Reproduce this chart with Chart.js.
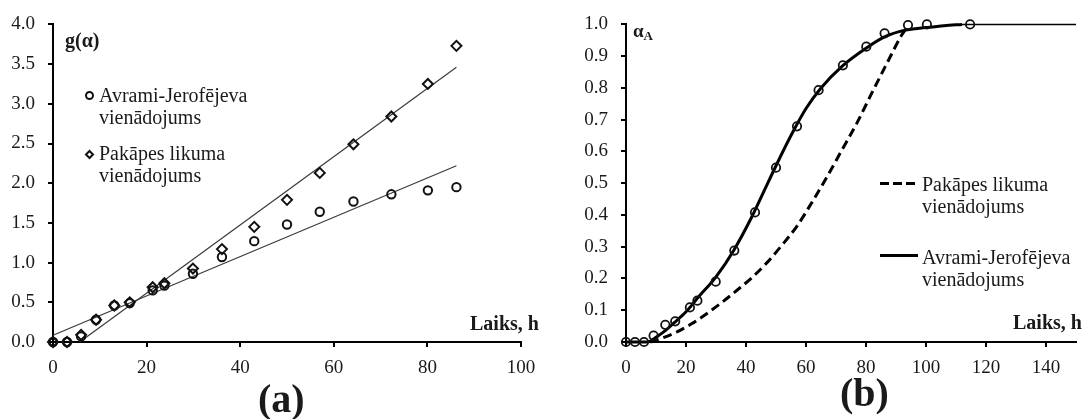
<!DOCTYPE html>
<html>
<head>
<meta charset="utf-8">
<script src="https://cdn.jsdelivr.net/npm/chart.js@4.4.1/dist/chart.umd.min.js"></script>
<style>
  html, body { margin: 0; padding: 0; background: #fff; }
  body { width: 1082px; height: 419px; position: relative; overflow: hidden;
         font-family: "Liberation Serif", "Times New Roman", serif; color: #1a1a1a; }
  .box { position: absolute; top: 0; height: 419px; }
  #boxA { left: 0; width: 560px; }
  #boxB { left: 560px; width: 522px; }
  .t { position: absolute; white-space: nowrap; line-height: 1; }
  .b { font-weight: bold; }
  .leg { position: absolute; white-space: nowrap; font-size: 20px; }
  .mk { position: absolute; box-sizing: border-box; }
</style>
</head>
<body>
<div class="box" id="boxA"><canvas id="chartA"></canvas></div>
<div class="box" id="boxB"><canvas id="chartB"></canvas></div>

<!-- panel (a) captions and legend -->
<div class="t b" style="left:65px; top:30px; font-size:20px;">g(α)</div>
<div class="t b" style="left:470px; top:313px; font-size:20px;">Laiks, h</div>
<div class="t b" style="left:258px; top:379px; font-size:40px;">(a)</div>
<div class="mk" style="left:85px; top:91px; width:9px; height:9px; border:2px solid #111; border-radius:50%;"></div>
<div class="leg" style="left:99px; top:84px; line-height:22px;">Avrami-Jerofējeva<br>vienādojums</div>
<div class="mk" style="left:85.5px; top:150.5px; width:7px; height:7px; border:2px solid #111; transform:rotate(45deg);"></div>
<div class="leg" style="left:99px; top:142px; line-height:22px;">Pakāpes likuma<br>vienādojums</div>

<!-- panel (b) captions and legend -->
<div class="t b" style="left:633px; top:21px; font-size:19px;">α<span style="font-size:13px; position:relative; top:3px;">A</span></div>
<div class="t b" style="left:1013px; top:312px; font-size:20px;">Laiks, h</div>
<div class="t b" style="left:840px; top:373px; font-size:40px;">(b)</div>
<div class="mk" style="left:880px; top:182px; width:36px; height:3px; background:repeating-linear-gradient(90deg,#000 0 9px,transparent 9px 13px);"></div>
<div class="leg" style="left:922px; top:174px; line-height:21.5px;">Pakāpes likuma<br>vienādojums</div>
<div class="mk" style="left:880px; top:254px; width:38px; height:3px; background:#000;"></div>
<div class="leg" style="left:922px; top:247px; line-height:21.5px;">Avrami-Jerofējeva<br>vienādojums</div>

<script>
// ---- panel (a): g(α) versus time ----
const timeA      = [0, 3, 6, 9.2, 13.1, 16.4, 21.3, 23.8, 29.9, 36.1, 43, 50, 57, 64.2, 72.3, 80.1, 86.2];
const avramiG    = [0, 0, 0.07, 0.28, 0.46, 0.49, 0.65, 0.71, 0.86, 1.07, 1.27, 1.48, 1.64, 1.77, 1.86, 1.91, 1.95];
const powerG     = [0, 0, 0.09, 0.28, 0.46, 0.50, 0.69, 0.74, 0.925, 1.17, 1.45, 1.79, 2.13, 2.49, 2.84, 3.25, 3.73];
// straight trend lines (end points)
const avramiFitT = [0, 86.2];
const avramiFitG = [0.085, 2.22];
const powerFitT  = [5.7, 86.2];
const powerFitG  = [0, 3.46];
const xTicksA    = [0, 20, 40, 60, 80, 100];
const yTicksA    = [0, 0.5, 1, 1.5, 2, 2.5, 3, 3.5, 4];

// ---- panel (b): conversion degree α_A versus time ----
const timeB      = [0, 3, 6, 9.2, 13.1, 16.4, 21.3, 23.8, 29.9, 36.1, 43, 50, 57, 64.2, 72.3, 80.1, 86.2, 94, 100.3, 114.7];
const alphaA     = [0, 0, 0, 0.02, 0.054, 0.065, 0.109, 0.13, 0.19, 0.288, 0.408, 0.549, 0.679, 0.793, 0.871, 0.930, 0.972, 0.998, 1.0, 1.0];
// Avrami-Jerofējeva model curve
const avramiCurveT = [0, 7, 10, 13, 16, 20, 24, 30, 36, 42, 46, 50, 55, 60, 65, 72, 80, 86, 93, 100, 106, 112];
const avramiCurveA = [0, 0, 0.015, 0.035, 0.06, 0.095, 0.14, 0.205, 0.29, 0.395, 0.475, 0.555, 0.65, 0.735, 0.80, 0.868, 0.925, 0.96, 0.982, 0.99, 0.996, 1.0];
// plateau after full conversion
const plateauT = [112, 150];
const plateauA = [1.0, 1.0];
// power-law model curve
const powerCurveT = [8, 12, 17, 22, 27, 32, 37, 42, 47, 52, 57, 62, 67, 72, 77, 82, 87, 92, 93.5];
const powerCurveA = [0, 0.012, 0.032, 0.058, 0.09, 0.125, 0.163, 0.203, 0.25, 0.305, 0.365, 0.44, 0.52, 0.605, 0.69, 0.785, 0.878, 0.968, 0.988];
const xTicksB    = [0, 20, 40, 60, 80, 100, 120, 140];
const yTicksB    = [0, 0.1, 0.2, 0.3, 0.4, 0.5, 0.6, 0.7, 0.8, 0.9, 1.0];

const pts = (xs, ys) => xs.map((x, i) => ({ x: x, y: ys[i] }));
const FONT = '"Liberation Serif", "Times New Roman", serif';

function axis(min, max, tickList, fmt, fitSize, isX, pad) {
  return {
    type: 'linear', min: min, max: max,
    afterBuildTicks: s => { s.ticks = tickList.map(v => ({ value: v })); },
    afterFit: s => { if (isX) s.height = fitSize; else s.width = fitSize; },
    border: { display: true, color: '#000', width: 2 },
    grid: { display: true, drawOnChartArea: false, drawTicks: true, tickLength: 5, color: '#000', lineWidth: 2 },
    ticks: { color: '#1a1a1a', font: { family: FONT, size: 19 }, padding: pad,
             autoSkip: false, maxRotation: 0, callback: v => fmt(v) }
  };
}

const baseOpts = {
  responsive: false, animation: false, maintainAspectRatio: false,
  plugins: { legend: { display: false }, tooltip: { enabled: false } },
  events: []
};

// panel (a)
const cA = document.getElementById('chartA');
cA.width = 560; cA.height = 419;
new Chart(cA, {
  type: 'scatter',
  data: {
    datasets: [
      { data: pts(timeA, avramiG), pointStyle: 'circle', pointRadius: 4.2, pointBorderWidth: 2,
        borderColor: '#111', backgroundColor: 'rgba(0,0,0,0)', showLine: false, clip: false },
      { data: pts(timeA, powerG), pointStyle: 'rectRot', pointRadius: 5, pointBorderWidth: 2,
        borderColor: '#111', backgroundColor: 'rgba(0,0,0,0)', showLine: false, clip: false },
      { data: pts(avramiFitT, avramiFitG), showLine: true, pointRadius: 0, borderWidth: 1.2,
        borderColor: '#3a3a3a', clip: false },
      { data: pts(powerFitT, powerFitG), showLine: true, pointRadius: 0, borderWidth: 1.2,
        borderColor: '#3a3a3a', clip: false }
    ]
  },
  options: Object.assign({}, baseOpts, {
    layout: { padding: { left: 0, top: 24, right: 39, bottom: 0 } },
    scales: {
      x: axis(0, 100, xTicksA, v => String(v), 77, true, 10),
      y: axis(0, 4, yTicksA, v => v.toFixed(1), 53, false, 13)
    }
  })
});

// panel (b)
const cB = document.getElementById('chartB');
cB.width = 522; cB.height = 419;
new Chart(cB, {
  type: 'scatter',
  data: {
    datasets: [
      { data: pts(timeB, alphaA), pointStyle: 'circle', pointRadius: 4.2, pointBorderWidth: 1.8,
        borderColor: '#111', backgroundColor: 'rgba(0,0,0,0)', showLine: false, clip: false },
      { data: pts(avramiCurveT, avramiCurveA), showLine: true, pointRadius: 0, borderWidth: 3,
        borderColor: '#000', cubicInterpolationMode: 'monotone', clip: false },
      { data: pts(plateauT, plateauA), showLine: true, pointRadius: 0, borderWidth: 1.5,
        borderColor: '#000', clip: false },
      { data: pts(powerCurveT, powerCurveA), showLine: true, pointRadius: 0, borderWidth: 3,
        borderColor: '#000', borderDash: [9, 5], cubicInterpolationMode: 'monotone', clip: false }
    ]
  },
  options: Object.assign({}, baseOpts, {
    layout: { padding: { left: 0, top: 21, right: 4, bottom: 0 } },
    scales: {
      x: axis(0, 150, xTicksB, v => String(v), 77, true, 10),
      y: axis(0, 1, yTicksB, v => v.toFixed(1), 66, false, 13)
    }
  })
});
</script>
</body>
</html>
